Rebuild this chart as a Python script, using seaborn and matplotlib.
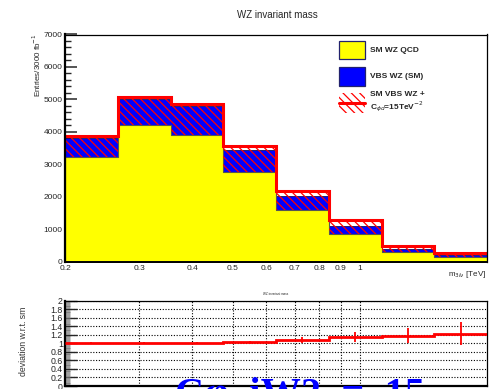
import numpy as np
import pandas as pd
import matplotlib
matplotlib.use("Agg")
import matplotlib.pyplot as plt
import seaborn as sns
from matplotlib.ticker import FixedLocator, FixedFormatter, MultipleLocator, NullFormatter
from matplotlib.patches import Rectangle
from matplotlib.lines import Line2D

# m_3lnu binning (TeV) and yields per 3000 fb^-1
bin_edges = [0.2, 0.267, 0.356, 0.474, 0.632, 0.843, 1.125, 1.5, 2.0]
sm_wz_qcd = [3230, 4200, 3900, 2770, 1600, 850, 300, 140]
vbs_wz_sm = [570, 800, 880, 680, 425, 250, 90, 60]
vbs_wz_eft = [640, 860, 945, 805, 580, 435, 180, 120]   # SM VBS WZ + C_phid = 15 TeV^-2

# ratio (QCD + EFT) / (QCD + SM) and its uncertainty
ratio = [1.0, 1.0, 1.0, 1.02, 1.075, 1.145, 1.18, 1.22]
ratio_err = [0.02, 0.02, 0.02, 0.03, 0.07, 0.12, 0.18, 0.27]

x_ticks_minor = [0.2, 0.3, 0.4, 0.5, 0.6, 0.7, 0.8, 0.9]
x_tick_labels = ["0.2", "0.3", "0.4", "0.5", "0.6", "0.7", "0.8", "0.9"]

sns.set_style("white")
plt.rcParams["font.family"] = ["Liberation Sans", "DejaVu Sans"]
plt.rcParams["hatch.linewidth"] = 0.9

W, H = 491, 389
fig = plt.figure(figsize=(W / 100, H / 100), dpi=100)


def rect(l, t, r, b):
    return [l / W, 1 - b / H, (r - l) / W, (b - t) / H]


def fx(x):
    return x / W


def fy(y):
    return 1 - y / H


edges = np.array(bin_edges)
centers = np.sqrt(edges[:-1] * edges[1:])
qcd = np.array(sm_wz_qcd, float)
sm_top = qcd + np.array(vbs_wz_sm, float)
eft_top = qcd + np.array(vbs_wz_eft, float)

df = pd.DataFrame({"m": centers, "qcd": qcd, "sm_total": sm_top})

# ---------------- main panel ----------------
ax = fig.add_axes(rect(65, 34.5, 487, 261.5))
sns.histplot(data=df, x="m", weights="sm_total", bins=list(bin_edges), element="step",
             fill=True, color="#0000ff", alpha=1, edgecolor="#101060",
             linewidth=0.6, ax=ax, zorder=2)
sns.histplot(data=df, x="m", weights="qcd", bins=list(bin_edges), element="step",
             fill=True, color="#ffff00", alpha=1, edgecolor="#555555",
             linewidth=0.8, ax=ax, zorder=3)
ax.bar(edges[:-1], eft_top - qcd, width=np.diff(edges), bottom=qcd, align="edge",
       fill=False, hatch="\\\\\\\\", edgecolor="#ff0000", linewidth=0, zorder=4)
ax.stairs(eft_top, edges, baseline=None, color="#ff0000", linewidth=2.2, zorder=5)

ax.set_xscale("log")
ax.set_xlim(0.2, 2.0)
ax.set_ylim(0, 7000)
ax.set_xlabel("")
ax.set_ylabel("")
ax.xaxis.set_major_locator(FixedLocator([1.0]))
ax.xaxis.set_major_formatter(FixedFormatter(["1"]))
ax.xaxis.set_minor_locator(FixedLocator(x_ticks_minor))
ax.xaxis.set_minor_formatter(FixedFormatter(x_tick_labels))
ax.yaxis.set_major_locator(MultipleLocator(1000))
ax.yaxis.set_minor_locator(MultipleLocator(200))
ax.yaxis.set_major_formatter(matplotlib.ticker.FuncFormatter(lambda v, p: f"{int(v)}"))
ax.tick_params(axis="y", which="major", direction="in", length=8.5, width=1.1,
               labelsize=6, pad=2, left=True)
ax.tick_params(axis="y", which="minor", direction="in", length=4.3, width=1.0, left=True)
ax.tick_params(axis="x", which="major", direction="in", length=5, width=0.8,
               labelsize=6, pad=2.5, bottom=True)
ax.tick_params(axis="x", which="minor", direction="in", length=3, width=0.8,
               labelsize=6, pad=2.5, bottom=True)
for s in ax.spines.values():
    s.set_linewidth(0.9)
    s.set_color("black")
    s.set_zorder(6)
ax.spines["left"].set_linewidth(1.6)
ax.spines["bottom"].set_linewidth(1.4)

fig.text(fx(277), fy(15), "WZ invariant mass", ha="center", va="center", fontsize=7)
fig.text(fx(37), fy(33), "Entries/3000 fb$^{-1}$", rotation=90, ha="center", va="top",
         fontsize=5.8)
fig.text(fx(486), fy(274), r"m$_{3l\nu}$ [TeV]", ha="right", va="center", fontsize=5.8)

# legend
lx0, lx1 = 339, 365
fig.patches.append(Rectangle((fx(lx0), fy(59)), fx(lx1 - lx0), (59 - 41) / H,
                             transform=fig.transFigure, facecolor="#ffff00",
                             edgecolor="#22226e", linewidth=0.9))
fig.patches.append(Rectangle((fx(lx0), fy(86)), fx(lx1 - lx0), (86 - 67) / H,
                             transform=fig.transFigure, facecolor="#0000ff",
                             edgecolor="#22226e", linewidth=0.9))
fig.patches.append(Rectangle((fx(lx0), fy(113)), fx(lx1 - lx0), (113 - 93) / H,
                             transform=fig.transFigure, fill=False, hatch="\\\\\\\\",
                             edgecolor="#ff0000", linewidth=0))
fig.lines.append(Line2D([fx(lx0), fx(lx1)], [fy(103), fy(103)], transform=fig.transFigure,
                        color="#ff0000", linewidth=2.2))
tkw = dict(ha="left", va="center", fontsize=6, fontweight="bold")
fig.text(fx(370), fy(51), "SM WZ QCD", **tkw)
fig.text(fx(370), fy(77), "VBS WZ (SM)", **tkw)
fig.text(fx(370), fy(94), "SM VBS WZ +", **tkw)
fig.text(fx(370), fy(107), r"C$_{\phi d}$=15TeV$^{-2}$", **tkw)

# ---------------- ratio panel ----------------
ax2 = fig.add_axes(rect(65, 300.5, 487, 386))
ax2.stairs(ratio, edges, baseline=None, color="#ff0000", linewidth=2.0, zorder=4)
ax2.errorbar(centers, ratio, yerr=ratio_err, fmt="none", ecolor="#ff0000",
             elinewidth=1.3, capsize=0, zorder=4)
ax2.set_xscale("log")
ax2.set_xlim(0.2, 2.0)
ax2.set_ylim(0, 2)
ax2.xaxis.set_major_locator(FixedLocator([1.0]))
ax2.xaxis.set_minor_locator(FixedLocator(x_ticks_minor))
ax2.xaxis.set_major_formatter(NullFormatter())
ax2.xaxis.set_minor_formatter(NullFormatter())
ax2.yaxis.set_major_locator(MultipleLocator(0.2))
ax2.yaxis.set_minor_locator(MultipleLocator(0.02))
ax2.yaxis.set_major_formatter(matplotlib.ticker.FuncFormatter(
    lambda v, p: f"{v:.1f}".rstrip("0").rstrip(".") if v else "0"))
ax2.tick_params(axis="y", which="major", direction="in", length=8.5, width=1.0,
                labelsize=6.3, pad=1.5, left=True)
ax2.tick_params(axis="y", which="minor", direction="in", length=3.5, width=0.5,
                color="#777777", left=True)
ax2.tick_params(axis="x", which="both", length=0)
ax2.xaxis.grid(True, which="both", linestyle=(0, (1, 1.5)), color="black", linewidth=0.8)
ax2.yaxis.grid(True, which="major", linestyle=(0, (1, 1.5)), color="black", linewidth=0.8)
for s in ax2.spines.values():
    s.set_linewidth(0.9)
    s.set_color("black")
ax2.spines["left"].set_linewidth(1.6)
ax2.spines["bottom"].set_linewidth(1.6)

fig.text(fx(276), fy(294), "WZ invariant mass", ha="center", va="center", fontsize=2.2)
fig.text(fx(24), fy(341), "deviation w.r.t. sm", rotation=90, ha="center", va="center",
         fontsize=6.3, color="#333333")

# operator tag, large serif
fig.text(fx(175), fy(404.5), "Cφ  iW2  =  15", ha="left", va="baseline", fontsize=29,
         fontweight="bold", color="#0000ff", family=["Liberation Serif", "DejaVu Serif"],
         zorder=10)

fig.savefig("out.png", dpi=100)
